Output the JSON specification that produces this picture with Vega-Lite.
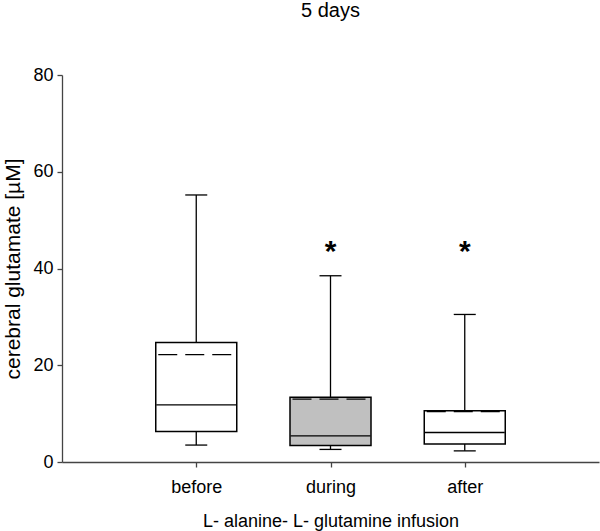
{
  "$schema": "https://vega.github.io/schema/vega-lite/v6.json",
  "width": 537,
  "height": 387,
  "autosize": {"type": "none"},
  "padding": {"left": 62, "top": 75, "right": 1, "bottom": 69},
  "background": "white",
  "title": {"text": "5 days", "fontSize": 20, "font": "Liberation Sans", "fontWeight": "normal", "anchor": "middle", "frame": "group", "offset": 29, "baseline": "alphabetic", "color": "black"},
  "config": {
    "view": {"stroke": null},
    "font": "Liberation Sans",
    "axis": {"labelFont": "Liberation Sans", "titleFont": "Liberation Sans", "labelFontSize": 18, "titleFontSize": 18, "titleFontWeight": "normal", "labelColor": "black", "titleColor": "black", "domainColor": "#444", "tickColor": "#444", "domainWidth": 1.3, "tickWidth": 1.3, "tickSize": 5, "grid": false}
  },
  "data": {"values": [
    {"phase": "before", "low": 3.5, "q1": 6.3, "median": 11.8, "mean": 22.2, "q3": 24.7, "high": 55.2, "sig": ""},
    {"phase": "during", "low": 2.6, "q1": 3.4, "median": 5.4, "mean": 13.0, "q3": 13.4, "high": 38.5, "sig": "*"},
    {"phase": "after", "low": 2.3, "q1": 3.7, "median": 6.1, "mean": 10.4, "q3": 10.6, "high": 30.5, "sig": "*"}
  ]},
  "encoding": {
    "x": {"field": "phase", "type": "nominal", "sort": ["before", "during", "after"], "scale": {"type": "point", "padding": 1},
      "axis": {"title": "L- alanine- L- glutamine infusion", "labelAngle": 0, "labelPadding": 11, "titlePadding": 16}}
  },
  "layer": [
    {"mark": {"type": "rule", "color": "black", "strokeWidth": 1.3},
     "encoding": {"y": {"field": "low", "type": "quantitative", "title": "cerebral glutamate [µM]", "scale": {"domain": [0, 80], "nice": false},
        "axis": {"values": [0, 20, 40, 60, 80], "labelPadding": 4, "titlePadding": 9, "titleFontSize": 21}}, "y2": {"field": "q1"}}},
    {"mark": {"type": "rule", "color": "black", "strokeWidth": 1.3},
     "encoding": {"y": {"field": "q3", "type": "quantitative", "title": "cerebral glutamate [µM]"}, "y2": {"field": "high"}}},
    {"mark": {"type": "tick", "color": "black", "size": 22, "thickness": 1.3, "opacity": 1},
     "encoding": {"y": {"field": "low", "type": "quantitative", "title": "cerebral glutamate [µM]"}}},
    {"mark": {"type": "tick", "color": "black", "size": 22, "thickness": 1.3, "opacity": 1},
     "encoding": {"y": {"field": "high", "type": "quantitative", "title": "cerebral glutamate [µM]"}}},
    {"mark": {"type": "bar", "width": 81, "stroke": "black", "strokeWidth": 1.5, "opacity": 1},
     "encoding": {"y": {"field": "q1", "type": "quantitative", "title": "cerebral glutamate [µM]"}, "y2": {"field": "q3"},
       "fill": {"field": "phase", "type": "nominal", "scale": {"domain": ["before", "during", "after"], "range": ["white", "#c0c0c0", "white"]}, "legend": null}}},
    {"mark": {"type": "rule", "color": "black", "strokeWidth": 1.3, "xOffset": -40, "x2Offset": 40},
     "encoding": {"x2": {"field": "phase"}, "y": {"field": "median", "type": "quantitative", "title": "cerebral glutamate [µM]"}}},
    {"mark": {"type": "rule", "color": "black", "strokeWidth": 1.3, "xOffset": -38, "x2Offset": 38, "strokeDash": [19, 8]},
     "encoding": {"x2": {"field": "phase"}, "y": {"field": "mean", "type": "quantitative", "title": "cerebral glutamate [µM]"}}},
    {"mark": {"type": "text", "fontSize": 30, "fontWeight": "bold", "baseline": "middle", "color": "black", "dy": 6},
     "encoding": {"y": {"datum": 44.6, "type": "quantitative"}, "text": {"field": "sig"}}}
  ]
}
